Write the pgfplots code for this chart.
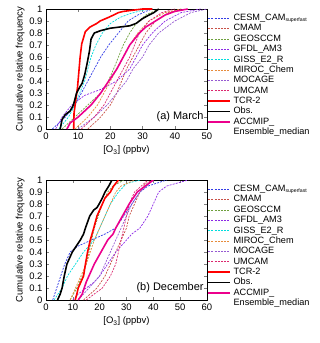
\documentclass[border=0pt]{standalone}
\usepackage{pgfplots}
\pgfplotsset{compat=1.18}
\usepackage{fontspec}
\setmainfont{Liberation Sans}
\definecolor{cesm}{RGB}{50,60,230}
\definecolor{cmam}{RGB}{200,80,70}
\definecolor{geos}{RGB}{110,160,60}
\definecolor{gfdl}{RGB}{140,40,230}
\definecolor{giss}{RGB}{0,220,220}
\definecolor{miroc}{RGB}{230,140,60}
\definecolor{mocage}{RGB}{150,90,210}
\definecolor{umcam}{RGB}{220,40,110}
\pgfplotsset{
  every axis/.append style={
    scale only axis, width=161bp, height=120bp,
    ymin=0, ymax=1, xmin=0,
    ytick={0,0.1,...,1},
    yticklabels={0,0.1,0.2,0.3,0.4,0.5,0.6,0.7,0.8,0.9,1},
    /pgf/number format/assume math mode=true,
    tick label style={font=\fontsize{9.5}{10}\selectfont},
    label style={font=\fontsize{9.5}{10}\selectfont},
    axis line style={line width=0.6pt},
    major tick length=3bp,
    ylabel={Cumulative relative frequency},
    xlabel={[O\textsubscript{3}] (ppbv)},
    ylabel style={yshift=-2bp},
    legend cell align=left,
    legend style={at={(1,1)}, anchor=north west, draw=none, fill=none,
      inner sep=0pt, outer sep=0pt, row sep=0.9pt, column sep=2pt,
      font=\fontsize{9.2}{9.5}\selectfont,
      nodes={inner sep=0.5pt, text height=6.6pt, text depth=1.9pt},
      xshift=0.5bp, yshift=-4.5bp},
    legend image code/.code={\draw[#1] (0bp,0bp) -- (22bp,0bp);},
  },
  md/.style={line width=0.7pt, dash pattern=on 2pt off 1.2pt},
  thk/.style={line width=1.6pt},
}
\newcommand{\leg}{%
\legend{CESM\_CAM\raisebox{-0.2ex}{\fontsize{5.2}{5}\selectfont superfast},CMAM,GEOSCCM,GFDL\_AM3,GISS\_E2\_R,MIROC\_Chem,MOCAGE,UMCAM,TCR-2,Obs.,{\begin{tabular}[t]{@{}l@{}}ACCMIP\_\\[0.8pt]Ensemble\_median\end{tabular}}}}
\begin{document}
\begin{tikzpicture}
\begin{axis}[name=top, at={(0,0)}, anchor=north west, xmax=50, xtick={0,10,20,30,40,50}]
\addplot[md, cesm] coordinates {(2,0) (4,0.05) (6,0.1) (9,0.2) (11,0.3) (13,0.4) (15,0.5) (17,0.6) (19.5,0.7) (22.5,0.8) (25.5,0.9) (28.5,0.95) (31,0.98) (33,1)};
\addplot[md, cmam] coordinates {(13,0) (17,0.1) (20,0.2) (22,0.3) (23.5,0.4) (25,0.5) (27,0.6) (29,0.7) (31,0.8) (34,0.9) (38,0.97) (42,1)};
\addplot[md, geos] coordinates {(5,0) (9,0.1) (13,0.2) (17,0.3) (19,0.38) (21,0.5) (22.5,0.6) (24,0.7) (26,0.8) (28,0.88) (31,0.95) (35,1)};
\addplot[md, gfdl] coordinates {(3,0) (5,0.1) (8,0.2) (12,0.28) (17,0.33) (22,0.4) (26,0.5) (28,0.6) (30,0.7) (33,0.8) (37,0.9) (42,0.97) (48,1)};
\addplot[md, giss] coordinates {(4,0) (7,0.1) (9,0.2) (10.5,0.3) (12,0.4) (13,0.5) (14,0.6) (15.5,0.7) (17.5,0.8) (20,0.88) (23,0.93) (26,0.96) (30,0.99) (33,1)};
\addplot[md, miroc] coordinates {(9,0) (13,0.1) (16,0.2) (18,0.3) (20,0.4) (22,0.5) (24,0.6) (26,0.7) (28.5,0.8) (32,0.9) (37,0.97) (42,1)};
\addplot[md, mocage] coordinates {(10,0) (15,0.1) (19,0.2) (22,0.3) (25,0.4) (27,0.5) (30,0.6) (32,0.7) (35,0.8) (40,0.9) (45,0.97) (50,1)};
\addplot[md, umcam] coordinates {(11,0) (15,0.1) (18,0.2) (20,0.3) (22,0.4) (24,0.5) (26,0.6) (27.5,0.7) (29,0.8) (32,0.9) (36,0.97) (40,1)};
\addplot[thk, red] coordinates {(8.6,0) (8.7,0.13) (9.8,0.35) (10.6,0.6) (11.1,0.71) (12.2,0.81) (13.7,0.85) (15.8,0.88) (16.8,0.9) (19.4,0.93) (21,0.95) (22.5,0.97) (24,0.98) (27,0.99) (30,1) (33,1)};
\addplot[thk, black] coordinates {(4.4,0) (5,0.08) (6,0.12) (7.5,0.15) (8.5,0.2) (9.5,0.3) (10.5,0.35) (11.2,0.38) (12,0.45) (12.8,0.55) (13.5,0.65) (14,0.75) (15,0.8) (17,0.82) (20,0.84) (23,0.85) (26,0.86) (28,0.88) (30,0.92) (32,0.95) (33.5,0.97) (35,1)};
\addplot[thk, magenta] coordinates {(6.5,0) (7.5,0.05) (10,0.1) (12,0.15) (14,0.2) (17,0.3) (19,0.38) (22,0.5) (24,0.6) (26,0.7) (29,0.8) (31,0.85) (34,0.9) (37,0.95) (40,0.98) (44,1)};
\leg
\node[anchor=east, font=\fontsize{11}{12}\selectfont, inner sep=0pt] at (rel axis cs:0.98,0.1) {(a) March};
\end{axis}
\begin{axis}[name=bot, at={(0,-171bp)}, anchor=north west, xmax=60, xtick={0,10,20,30,40,50,60}]
\addplot[md, cesm] coordinates {(2.5,0) (4,0.1) (5.5,0.2) (7,0.3) (9,0.4) (12,0.45) (17,0.5) (22,0.55) (26,0.6) (29,0.7) (32,0.8) (35,0.9) (38,0.95) (45,1)};
\addplot[md, cmam] coordinates {(14,0) (19,0.1) (22,0.2) (24,0.3) (26,0.4) (28,0.5) (30,0.6) (31,0.7) (33,0.8) (35,0.9) (37,0.97) (40,1)};
\addplot[md, geos] coordinates {(9,0) (11.5,0.1) (13.5,0.2) (15,0.3) (17,0.5) (18,0.6) (19.5,0.7) (21,0.8) (23,0.9) (25,0.95) (29,1)};
\addplot[md, gfdl] coordinates {(10,0) (12,0.05) (15,0.1) (18,0.15) (20,0.2) (23,0.3) (26,0.4) (30,0.5) (32,0.55) (35,0.6) (38,0.7) (40,0.8) (42,0.9) (45,0.95) (53,1)};
\addplot[md, giss] coordinates {(3,0) (6,0.1) (8,0.2) (11,0.3) (14,0.4) (18,0.5) (20,0.6) (22,0.7) (24,0.8) (27,0.9) (30,0.97) (35,1)};
\addplot[md, miroc] coordinates {(9,0) (11,0.1) (13,0.2) (15,0.3) (16.5,0.4) (18,0.5) (20,0.6) (22,0.7) (24,0.8) (26,0.9) (28,0.95) (33,1)};
\addplot[md, mocage] coordinates {(12,0) (16,0.1) (20,0.2) (22,0.3) (24,0.4) (26,0.5) (28,0.6) (30,0.7) (32,0.8) (35,0.9) (40,1)};
\addplot[md, umcam] coordinates {(15,0) (21,0.1) (24,0.2) (26,0.3) (28,0.5) (29,0.6) (30,0.7) (31,0.8) (33,0.9) (38,1)};
\addplot[thk, red] coordinates {(10.9,0) (11.5,0.05) (12,0.1) (14,0.2) (14.7,0.3) (15.5,0.4) (16.5,0.5) (17.8,0.6) (19,0.7) (21,0.8) (22,0.85) (24,0.9) (25.2,0.95) (27,1)};
\addplot[thk, black] coordinates {(4.3,0) (5.3,0.05) (6,0.1) (6.8,0.2) (7.8,0.3) (8.8,0.35) (9.8,0.4) (11.3,0.45) (12.8,0.5) (14,0.55) (14.7,0.6) (15.5,0.65) (16.3,0.7) (17.8,0.75) (19,0.77) (19.8,0.8) (21,0.85) (22,0.9) (23.4,0.95) (24.6,1)};
\addplot[thk, magenta] coordinates {(12,0) (13.5,0.05) (15,0.15) (16,0.2) (18,0.3) (20.5,0.4) (23,0.5) (25,0.55) (26,0.6) (28.5,0.7) (31,0.8) (34,0.9) (37,0.95) (40,1)};
\leg
\node[anchor=east, font=\fontsize{11}{12}\selectfont, inner sep=0pt] at (rel axis cs:0.98,0.1) {(b) December};
\end{axis}
\pgfresetboundingbox
\path (-46bp,9bp) rectangle (274bp,-334bp);
\end{tikzpicture}
\end{document}
